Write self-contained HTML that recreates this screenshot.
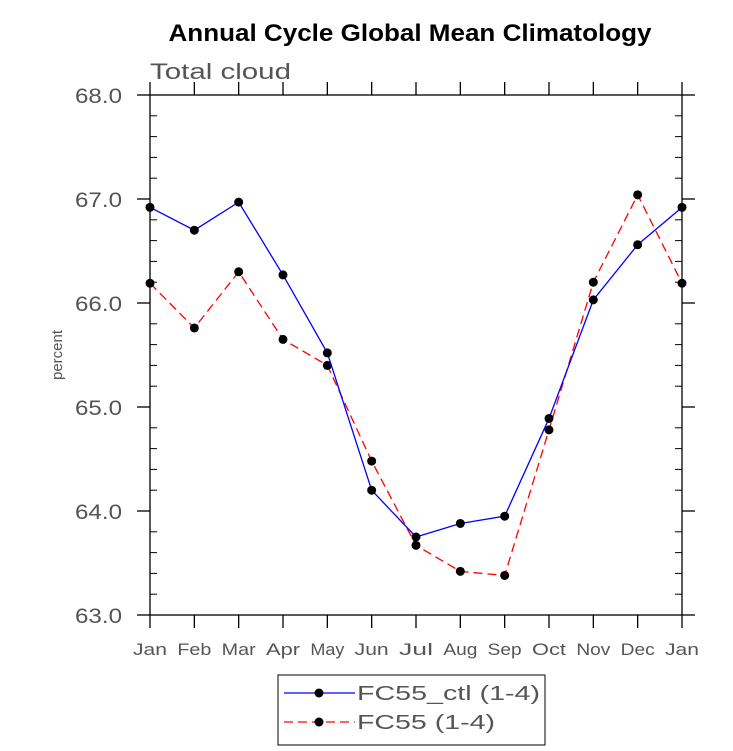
<!DOCTYPE html>
<html><head><meta charset="utf-8"><style>
body{margin:0;background:#fff;}
svg{display:block;font-family:"Liberation Sans",sans-serif;}
</style></head><body>
<svg id="c" width="733" height="751">
<text x="410" y="41" text-anchor="middle" font-size="24" font-weight="bold" textLength="483" lengthAdjust="spacingAndGlyphs">Annual Cycle Global Mean Climatology</text>
<text x="150" y="79" font-size="22" fill="#555" textLength="141" lengthAdjust="spacingAndGlyphs">Total cloud</text>
<text x="62" y="355" font-size="15" fill="#555" transform="rotate(-90 62 355)" text-anchor="middle" textLength="50" lengthAdjust="spacingAndGlyphs">percent</text>
<rect x="150" y="95" width="532" height="520" fill="none" stroke="#000" stroke-width="1.3"/>
<g id="ax"></g><g id="series"></g>
<g>
<rect x="278" y="675" width="267" height="70" fill="#fff" stroke="#000" stroke-width="1"/>
<line x1="284" y1="693" x2="355" y2="693" stroke="#0000ff" stroke-width="1.3"/>
<circle cx="319" cy="693" r="4.5" fill="#000"/>
<text x="357" y="700" font-size="20" fill="#555" textLength="183" lengthAdjust="spacingAndGlyphs">FC55_ctl (1-4)</text>
<line x1="284" y1="722" x2="355" y2="722" stroke="#ff0000" stroke-width="1.3" stroke-dasharray="9,5"/>
<circle cx="319" cy="722" r="4.5" fill="#000"/>
<text x="357" y="729" font-size="20" fill="#555" textLength="138" lengthAdjust="spacingAndGlyphs">FC55 (1-4)</text>
</g>
</svg>
<script>
const months=["Jan","Feb","Mar","Apr","May","Jun","Jul","Aug","Sep","Oct","Nov","Dec","Jan"];
const ctl=[66.92,66.70,66.97,66.27,65.52,64.20,63.75,63.88,63.95,64.89,66.03,66.56,66.92];
const fc55=[66.19,65.76,66.30,65.65,65.40,64.48,63.67,63.42,63.38,64.78,66.20,67.04,66.19];
const yTicks=["63.0","64.0","65.0","66.0","67.0","68.0"];
const L=150,R=682,T=95,B=615,ymin=63,ymax=68;
const xs=i=>L+(R-L)*i/(months.length-1);
const ys=v=>B-(v-ymin)/(ymax-ymin)*(B-T);
const NS="http://www.w3.org/2000/svg";
function mk(p,t,a){const e=document.createElementNS(NS,t);for(const k in a)e.setAttribute(k,a[k]);p.appendChild(e);return e;}
const ax=document.getElementById('ax');
months.forEach((m,i)=>{const x=xs(i);
mk(ax,'line',{x1:x,y1:B,x2:x,y2:B+13,stroke:'#000','stroke-width':1.3});
mk(ax,'line',{x1:x,y1:T,x2:x,y2:T-13,stroke:'#000','stroke-width':1.3});
const t=mk(ax,'text',{x:x,y:B+40,'text-anchor':'middle','font-size':17,fill:'#555',textLength:34,lengthAdjust:'spacingAndGlyphs'});t.textContent=m;

});
for(let v=ymin;v<=ymax+1e-9;v+=0.2){const y=ys(v);const maj=Math.abs(v-Math.round(v))<1e-6;
if(maj){mk(ax,'line',{x1:L-13,y1:y,x2:L,y2:y,stroke:'#000','stroke-width':1.3});mk(ax,'line',{x1:R,y1:y,x2:R+13,y2:y,stroke:'#000','stroke-width':1.3});}
else{mk(ax,'line',{x1:L,y1:y,x2:L+7,y2:y,stroke:'#000','stroke-width':1});mk(ax,'line',{x1:R-7,y1:y,x2:R,y2:y,stroke:'#000','stroke-width':1});}}
yTicks.forEach(s=>{const t=mk(ax,'text',{x:L-28,y:ys(parseFloat(s))+8,'text-anchor':'end','font-size':21,fill:'#555',textLength:47,lengthAdjust:'spacingAndGlyphs'});t.textContent=s;

});
const sg=document.getElementById('series');
function draw(d,col,dash,name){const p=mk(sg,'polyline',{points:d.map((v,i)=>xs(i)+','+ys(v)).join(' '),fill:'none',stroke:col,'stroke-width':1.3,'stroke-dasharray':dash});


d.forEach((v,i)=>{const c=mk(sg,'circle',{cx:xs(i),cy:ys(v),r:4.5,fill:'#000'});

});}
draw(fc55,'#ff0000','9,5','fc55');
draw(ctl,'#0000ff','none','fc55-ctl');
</script>
</body></html>
